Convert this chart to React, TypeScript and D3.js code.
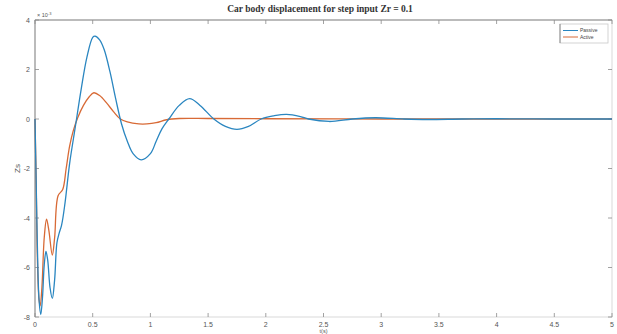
import React, { useEffect, useRef } from "react";
import * as d3 from "d3";

// Time samples (s) and displacement (×10^-3) for the passive suspension
const passiveT = [0, 0.01, 0.02, 0.035, 0.05, 0.065, 0.08, 0.095, 0.11, 0.13, 0.15, 0.17, 0.19, 0.21, 0.23, 0.26, 0.3, 0.35, 0.4, 0.45, 0.5, 0.52, 0.56, 0.6, 0.65, 0.7, 0.75, 0.8, 0.85, 0.92, 1.0, 1.05, 1.1, 1.16, 1.25, 1.34, 1.43, 1.55, 1.65, 1.75, 1.85, 1.96, 2.07, 2.18, 2.3, 2.37, 2.55, 2.75, 2.95, 3.2, 3.4, 3.7, 4.0, 4.5, 5.0];
const passiveZs = [0, -2.5, -5.0, -7.3, -7.9, -7.2, -5.9, -5.35, -5.7, -6.8, -7.25, -6.5, -5.0, -4.6, -4.3, -3.4, -1.8, -0.3, 1.2, 2.5, 3.3, 3.35, 3.2, 2.8, 1.9, 0.8, -0.2, -0.9, -1.4, -1.65, -1.4, -0.9, -0.4, 0, 0.55, 0.82, 0.55, 0, -0.3, -0.42, -0.3, 0, 0.13, 0.19, 0.1, 0, -0.1, 0, 0.05, 0, -0.02, 0, 0.01, 0, 0];

// Time samples (s) and displacement (×10^-3) for the active suspension
const activeT = [0, 0.01, 0.02, 0.035, 0.045, 0.06, 0.08, 0.1, 0.12, 0.15, 0.17, 0.2, 0.24, 0.27, 0.3, 0.33, 0.37, 0.42, 0.47, 0.51, 0.56, 0.62, 0.68, 0.74, 0.8, 0.9, 0.97, 1.05, 1.14, 1.25, 1.5, 2.0, 3.0, 4.0, 5.0];
const activeZs = [0, -2.5, -5.5, -7.3, -7.55, -6.8, -4.8, -4.05, -4.5, -5.5, -4.8, -3.1, -2.85, -2.0, -1.1, -0.5, 0.05, 0.55, 0.9, 1.06, 0.95, 0.65, 0.3, 0.0, -0.12, -0.2, -0.2, -0.15, -0.03, 0.02, 0.02, 0.01, 0, 0, 0];

const xTicks = [0, 0.5, 1, 1.5, 2, 2.5, 3, 3.5, 4, 4.5, 5];
const yTicks = [-8, -6, -4, -2, 0, 2, 4];
const seriesNames = ["Passive", "Active"];
const seriesColors = ["#2a86c0", "#d86a36"];

const W = 617;
const H = 334;
const M = { left: 35, right: 5, top: 20, bottom: 17 };

export default function App() {
  const ref = useRef<SVGSVGElement>(null);

  useEffect(() => {
    const svg = d3.select(ref.current);
    svg.selectAll("*").remove();

    const x = d3.scaleLinear().domain([0, 5]).range([M.left, W - M.right]);
    const y = d3.scaleLinear().domain([-8, 4]).range([H - M.bottom, M.top]);
    const axisColor = "#8a8a8a";
    const textColor = "#555";
    const font = "'Liberation Sans', Arial, sans-serif";

    svg.append("rect").attr("width", W).attr("height", H).attr("fill", "#fff");

    // Plot box
    svg.append("rect")
      .attr("x", x(0)).attr("y", y(4))
      .attr("width", x(5) - x(0)).attr("height", y(-8) - y(4))
      .attr("fill", "none").attr("stroke", "#d0d0d0").attr("stroke-width", 0.8);
    svg.append("line")
      .attr("x1", x(0)).attr("x2", x(0)).attr("y1", y(4)).attr("y2", y(-8))
      .attr("stroke", axisColor).attr("stroke-width", 1);
    svg.append("line")
      .attr("x1", x(0)).attr("x2", x(5)).attr("y1", y(4)).attr("y2", y(4))
      .attr("stroke", axisColor).attr("stroke-width", 1);

    const tl = 4;
    // X ticks (inward, top and bottom) and labels
    xTicks.forEach((t) => {
      svg.append("line").attr("x1", x(t)).attr("x2", x(t))
        .attr("y1", y(-8)).attr("y2", y(-8) - tl)
        .attr("stroke", axisColor).attr("stroke-width", 0.8);
      svg.append("line").attr("x1", x(t)).attr("x2", x(t))
        .attr("y1", y(4)).attr("y2", y(4) + tl)
        .attr("stroke", axisColor).attr("stroke-width", 0.8);
      svg.append("text").attr("x", x(t)).attr("y", y(-8) + 10)
        .attr("text-anchor", "middle").attr("font-family", font)
        .attr("font-size", 7).attr("fill", textColor).text(String(t));
    });

    // Y ticks (inward, left and right) and labels
    yTicks.forEach((v) => {
      svg.append("line").attr("x1", x(0)).attr("x2", x(0) + tl)
        .attr("y1", y(v)).attr("y2", y(v))
        .attr("stroke", axisColor).attr("stroke-width", 0.8);
      svg.append("line").attr("x1", x(5)).attr("x2", x(5) - tl)
        .attr("y1", y(v)).attr("y2", y(v))
        .attr("stroke", axisColor).attr("stroke-width", 0.8);
      svg.append("text").attr("x", x(0) - 5).attr("y", y(v) + 2.5)
        .attr("text-anchor", "end").attr("font-family", font)
        .attr("font-size", 7).attr("fill", textColor).text(String(v));
    });

    // Exponent marker
    const ex = svg.append("text").attr("x", x(0) + 2).attr("y", y(4) - 3)
      .attr("font-family", font).attr("font-size", 5.5).attr("fill", textColor);
    ex.append("tspan").text("× 10");
    ex.append("tspan").attr("dy", -2.5).attr("font-size", 4).text("-3");

    // Title and axis labels
    svg.append("text").attr("x", 320).attr("y", 12)
      .attr("text-anchor", "middle").attr("font-family", "'Liberation Serif', 'Times New Roman', serif")
      .attr("font-weight", "bold").attr("font-size", 9.5).attr("fill", "#333")
      .text("Car body displacement for step input Zr = 0.1");
    svg.append("text").attr("x", x(2.5)).attr("y", 333)
      .attr("text-anchor", "middle").attr("font-family", font)
      .attr("font-size", 5.5).attr("fill", textColor).text("t(s)");
    svg.append("text")
      .attr("transform", `translate(20,${y(-2)}) rotate(-90)`)
      .attr("text-anchor", "middle").attr("font-family", font)
      .attr("font-size", 8).attr("fill", textColor).text("Zs");

    // Series
    const line = d3.line<[number, number]>()
      .x((d) => x(d[0])).y((d) => y(d[1]))
      .curve(d3.curveCatmullRom.alpha(0.5));
    const data = [
      passiveT.map((t, i) => [t, passiveZs[i]] as [number, number]),
      activeT.map((t, i) => [t, activeZs[i]] as [number, number]),
    ];
    const g = svg.append("g");
    [1, 0].forEach((i) => {
      g.append("path").attr("d", line(data[i]) as string)
        .attr("fill", "none").attr("stroke", seriesColors[i])
        .attr("stroke-width", 1.3).attr("stroke-linejoin", "round");
    });

    // Legend
    const lx = 560, ly = 24, lw = 48, lh = 19;
    svg.append("rect").attr("x", lx).attr("y", ly).attr("width", lw).attr("height", lh)
      .attr("fill", "#fff").attr("stroke", "#c8c8c8").attr("stroke-width", 0.8);
    svg.append("line").attr("x1", lx).attr("x2", lx).attr("y1", ly).attr("y2", ly + lh)
      .attr("stroke", "#777").attr("stroke-width", 0.8);
    seriesNames.forEach((name, i) => {
      const yy = ly + 6.5 + i * 6.5;
      svg.append("line").attr("x1", lx + 3).attr("x2", lx + 18)
        .attr("y1", yy).attr("y2", yy)
        .attr("stroke", seriesColors[i]).attr("stroke-width", 1);
      svg.append("text").attr("x", lx + 20).attr("y", yy + 1.8)
        .attr("font-family", font).attr("font-size", 5).attr("fill", "#444").text(name);
    });
  }, []);

  return (
    <svg
      ref={ref}
      width={W}
      height={H}
      style={{ position: "fixed", left: 0, top: 0, display: "block" }}
    />
  );
}
